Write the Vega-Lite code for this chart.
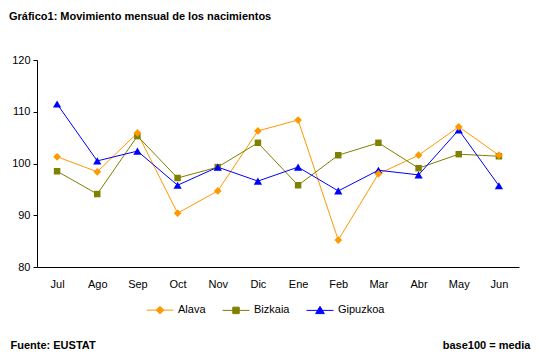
{
  "$schema": "https://vega.github.io/schema/vega-lite/v6.json",
  "width": 482,
  "height": 207,
  "autosize": {"type": "none"},
  "padding": {"left": 37, "top": 60, "right": 20, "bottom": 95},
  "background": "white",
  "title": {
    "text": "Gráfico1: Movimiento mensual de los nacimientos",
    "anchor": "start",
    "frame": "group",
    "dx": -28,
    "offset": 32,
    "font": "Liberation Sans",
    "fontSize": 11,
    "fontWeight": "bold",
    "color": "black"
  },
  "config": {
    "view": {"stroke": null},
    "font": "Liberation Sans",
    "legend": {
      "symbolSize": 729,
      "symbolStrokeWidth": 1,
      "symbolOpacity": 1,
      "labelFont": "Liberation Sans",
      "labelFontSize": 11,
      "labelColor": "black",
      "labelOffset": 4,
      "columnPadding": 14
    }
  },
  "data": {
    "values": [
      {"mes": "Jul", "serie": "Alava", "valor": 101.3},
      {"mes": "Ago", "serie": "Alava", "valor": 98.4},
      {"mes": "Sep", "serie": "Alava", "valor": 105.9},
      {"mes": "Oct", "serie": "Alava", "valor": 90.4},
      {"mes": "Nov", "serie": "Alava", "valor": 94.7},
      {"mes": "Dic", "serie": "Alava", "valor": 106.3},
      {"mes": "Ene", "serie": "Alava", "valor": 108.4},
      {"mes": "Feb", "serie": "Alava", "valor": 85.2},
      {"mes": "Mar", "serie": "Alava", "valor": 98.0},
      {"mes": "Abr", "serie": "Alava", "valor": 101.6},
      {"mes": "May", "serie": "Alava", "valor": 107.1},
      {"mes": "Jun", "serie": "Alava", "valor": 101.6},
      {"mes": "Jul", "serie": "Bizkaia", "valor": 98.5},
      {"mes": "Ago", "serie": "Bizkaia", "valor": 94.1},
      {"mes": "Sep", "serie": "Bizkaia", "valor": 105.3},
      {"mes": "Oct", "serie": "Bizkaia", "valor": 97.2},
      {"mes": "Nov", "serie": "Bizkaia", "valor": 99.3},
      {"mes": "Dic", "serie": "Bizkaia", "valor": 104.0},
      {"mes": "Ene", "serie": "Bizkaia", "valor": 95.8},
      {"mes": "Feb", "serie": "Bizkaia", "valor": 101.6},
      {"mes": "Mar", "serie": "Bizkaia", "valor": 104.0},
      {"mes": "Abr", "serie": "Bizkaia", "valor": 99.1},
      {"mes": "May", "serie": "Bizkaia", "valor": 101.8},
      {"mes": "Jun", "serie": "Bizkaia", "valor": 101.4},
      {"mes": "Jul", "serie": "Gipuzkoa", "valor": 111.5},
      {"mes": "Ago", "serie": "Gipuzkoa", "valor": 100.5},
      {"mes": "Sep", "serie": "Gipuzkoa", "valor": 102.4},
      {"mes": "Oct", "serie": "Gipuzkoa", "valor": 95.8},
      {"mes": "Nov", "serie": "Gipuzkoa", "valor": 99.3},
      {"mes": "Dic", "serie": "Gipuzkoa", "valor": 96.6},
      {"mes": "Ene", "serie": "Gipuzkoa", "valor": 99.3},
      {"mes": "Feb", "serie": "Gipuzkoa", "valor": 94.7},
      {"mes": "Mar", "serie": "Gipuzkoa", "valor": 98.7},
      {"mes": "Abr", "serie": "Gipuzkoa", "valor": 97.8},
      {"mes": "May", "serie": "Gipuzkoa", "valor": 106.5},
      {"mes": "Jun", "serie": "Gipuzkoa", "valor": 95.7}
    ]
  },
  "encoding": {
    "x": {
      "field": "mes",
      "type": "ordinal",
      "sort": ["Jul", "Ago", "Sep", "Oct", "Nov", "Dic", "Ene", "Feb", "Mar", "Abr", "May", "Jun"],
      "scale": {"type": "point", "padding": 0.5},
      "axis": {
        "title": "Fuente: EUSTAT",
        "titleFont": "Liberation Sans",
        "titleFontSize": 11,
        "titleFontWeight": "bold",
        "titleColor": "black",
        "titleAnchor": null,
        "titleAlign": "left",
        "titleBaseline": "alphabetic",
        "titleX": -27,
        "titleY": 81,
        "labelAngle": 0,
        "labelFont": "Liberation Sans",
        "labelFontSize": 11,
        "labelColor": "black",
        "labelPadding": 11,
        "ticks": false,
        "domainColor": "black",
        "domainWidth": 1,
        "grid": false
      }
    },
    "y": {
      "field": "valor",
      "type": "quantitative",
      "scale": {"domain": [80, 120], "nice": false, "zero": false},
      "axis": {
        "values": [80, 90, 100, 110, 120],
        "title": "base100 = media",
        "titleFont": "Liberation Sans",
        "titleFontSize": 11,
        "titleFontWeight": "bold",
        "titleColor": "black",
        "titleAngle": 0,
        "titleAnchor": null,
        "titleAlign": "right",
        "titleBaseline": "alphabetic",
        "titleX": 493,
        "titleY": 288,
        "labelFont": "Liberation Sans",
        "labelFontSize": 11,
        "labelColor": "black",
        "labelPadding": 3,
        "tickSize": 4,
        "tickColor": "black",
        "domainColor": "black",
        "domainWidth": 1,
        "grid": false
      }
    },
    "color": {
      "field": "serie",
      "type": "nominal",
      "scale": {"domain": ["Alava", "Bizkaia", "Gipuzkoa"], "range": ["#FF9900", "#808000", "#0000FF"]},
      "legend": {
        "title": null,
        "orient": "none",
        "direction": "horizontal",
        "legendX": 109,
        "legendY": 236
      }
    }
  },
  "layer": [
    {
      "transform": [{"filter": "datum.valor < 0"}],
      "mark": {"type": "point", "filled": true, "opacity": 1, "strokeWidth": 1},
      "encoding": {
        "stroke": {
          "field": "serie",
          "type": "nominal",
          "scale": {"domain": ["Alava", "Bizkaia", "Gipuzkoa"], "range": ["#FF9900", "#808000", "#0000FF"]},
          "legend": {
            "title": null,
            "orient": "none",
            "direction": "horizontal",
            "legendX": 109,
            "legendY": 236
          }
        },
        "shape": {
          "field": "serie",
          "type": "nominal",
          "scale": {"domain": ["Alava", "Bizkaia", "Gipuzkoa"], "range": ["M-1,0L1,0M0,-0.28L0.28,0L0,0.28L-0.28,0Z", "M-1,0L1,0M-0.24,-0.24L0.24,-0.24L0.24,0.24L-0.24,0.24Z", "M-1,0L1,0M0,-0.3L0.32,0.24L-0.32,0.24Z"]},
          "legend": {
            "title": null,
            "orient": "none",
            "direction": "horizontal",
            "legendX": 109,
            "legendY": 236
          }
        }
      }
    },
    {
      "mark": {"type": "line", "strokeWidth": 1}
    },
    {
      "transform": [{"filter": "datum.serie === 'Bizkaia'"}],
      "mark": {"type": "point", "shape": "square", "filled": true, "opacity": 1, "size": 42}
    },
    {
      "transform": [{"filter": "datum.serie === 'Gipuzkoa'"}],
      "mark": {"type": "point", "shape": "triangle-up", "filled": true, "opacity": 1, "size": 68}
    },
    {
      "transform": [{"filter": "datum.serie === 'Alava'"}],
      "mark": {"type": "point", "shape": "diamond", "filled": true, "opacity": 1, "size": 60}
    }
  ]
}
